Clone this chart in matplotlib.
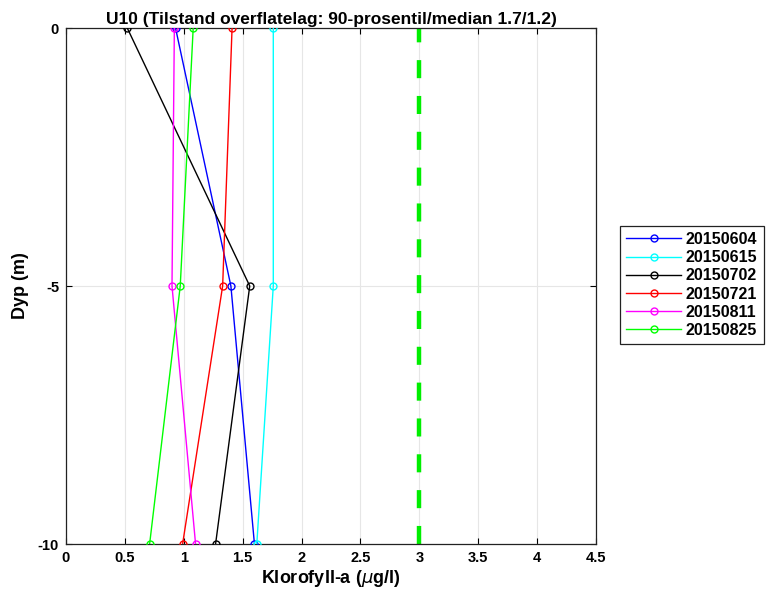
import matplotlib
matplotlib.use("Agg")
import matplotlib.pyplot as plt

plt.rcParams['font.family'] = ['Liberation Sans', 'DejaVu Sans']
plt.rcParams['lines.scale_dashes'] = False
plt.rcParams['axes.unicode_minus'] = False

depths = [0, -5, -10]
dates = ["20150604", "20150615", "20150702", "20150721", "20150811", "20150825"]
colors = ["#0000ff", "#00ffff", "#000000", "#ff0000", "#ff00ff", "#00ff00"]
chl = {
    "20150604": [0.93, 1.40, 1.60],
    "20150615": [1.76, 1.76, 1.62],
    "20150702": [0.52, 1.56, 1.27],
    "20150721": [1.41, 1.33, 0.99],
    "20150811": [0.92, 0.90, 1.10],
    "20150825": [1.08, 0.97, 0.71],
}
limit_value = 3.0
xticks = [0, 0.5, 1, 1.5, 2, 2.5, 3, 3.5, 4, 4.5]
xticklabels = ["0", "0.5", "1", "1.5", "2", "2.5", "3", "3.5", "4", "4.5"]
yticks = [-10, -5, 0]

fig = plt.figure(figsize=(7.68, 5.95), dpi=100)
ax = fig.add_axes([66 / 768, 1 - 544 / 595, 530 / 768, 516 / 595])

ax.axvline(limit_value, color="#00ee00", lw=3.2, dashes=(13, 12.8), zorder=1)

for d, c in zip(dates, colors):
    ax.plot(chl[d], depths, color=c, lw=1.0, marker="o", ms=5,
            mfc="none", mec=c, mew=1.0, label=d, zorder=3)

ax.set_xlim(0, 4.5)
ax.set_ylim(-10, 0)
ax.set_xticks(xticks)
ax.set_xticklabels(xticklabels)
ax.set_yticks(yticks)
ax.grid(True, color="#e6e6e6", lw=0.8)
ax.set_axisbelow(True)
ax.tick_params(direction="in", length=4, width=0.8, labelsize=10.5, pad=5,
               top=True, right=True)
for lab in ax.get_xticklabels() + ax.get_yticklabels():
    lab.set_fontweight("bold")
for s in ax.spines.values():
    s.set_linewidth(0.9)
    s.set_color("#222222")

ax.set_xlabel("Klorofyll-a ($\\mu$g/l)", fontsize=13, fontweight="bold", labelpad=2)
ax.set_ylabel("Dyp (m)", fontsize=13, fontweight="bold", labelpad=6)
ax.set_title("U10 (Tilstand overflatelag: 90-prosentil/median 1.7/1.2)",
             fontsize=12.5, fontweight="bold", pad=3)

leg = ax.legend(loc="center left", bbox_to_anchor=(620 / 768, 1 - 285 / 595),
                bbox_transform=fig.transFigure, fancybox=False, framealpha=1,
                edgecolor="#222222", handlelength=3.4, handletextpad=0.3,
                labelspacing=0.2, borderpad=0.4, borderaxespad=0,
                prop={"weight": "bold", "size": 11.5})
leg.get_frame().set_linewidth(0.9)

fig.savefig("out.png", dpi=100)
